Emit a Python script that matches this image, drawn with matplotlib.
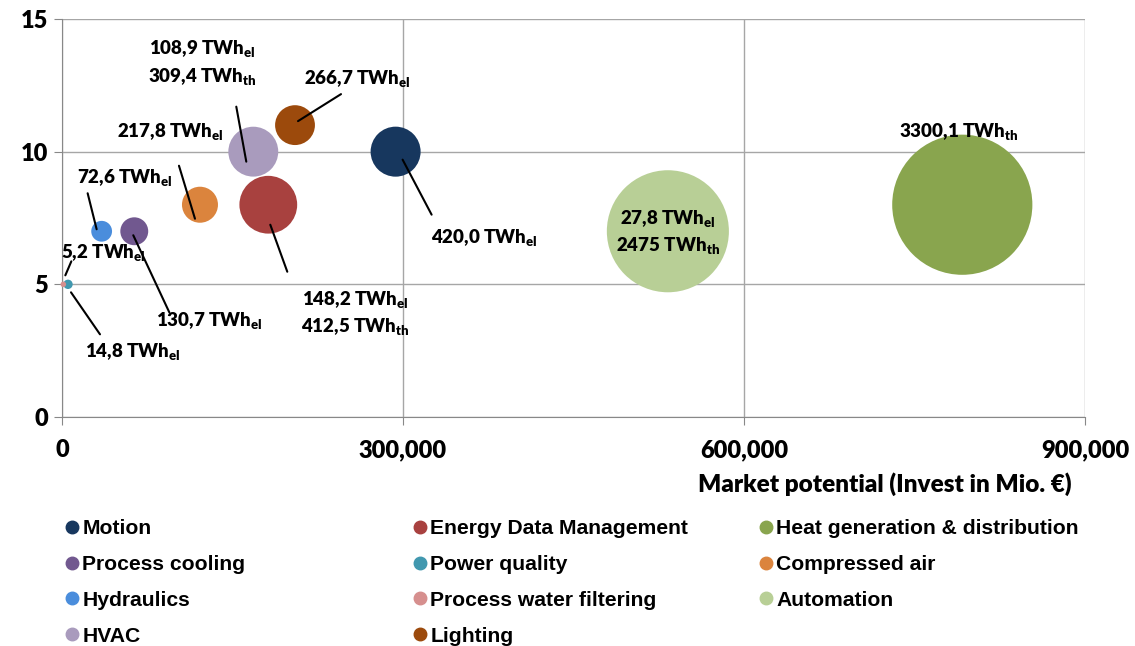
import matplotlib.pyplot as plt
from matplotlib.transforms import offset_copy
from matplotlib.ticker import FuncFormatter
from matplotlib.lines import Line2D

plt.rcParams["font.family"] = ["Lato", "DejaVu Sans"]
plt.rcParams["font.weight"] = "heavy"
plt.rcParams["mathtext.default"] = "regular"

categories = ["Motion", "Energy Data Management", "Heat generation & distribution",
              "Process cooling", "Power quality", "Compressed air",
              "Hydraulics", "Process water filtering", "Automation",
              "HVAC", "Lighting"]
invest = [293500, 181500, 792000, 63600, 5300, 121400, 34900, 1200, 533000, 168300, 205000]
score = [10, 8, 8, 7, 5, 8, 7, 5, 7, 10, 11]
twh_el = ["420,0", "148,2", "", "130,7", "14,8", "217,8", "72,6", "5,2", "27,8", "108,9", "266,7"]
twh_th = ["", "412,5", "3300,1", "", "", "", "", "", "2475", "309,4", ""]
colors = ["#17375E", "#A8413F", "#89A54E", "#71588F", "#4198AF", "#DB843D",
          "#4A8DDC", "#D68F8E", "#B8CF96", "#A99BBD", "#9C4A0C"]

# label placement, pixel offsets from bubble centre
text_off = [(35, -86, "left"), (87, -108, "center"), (-4, 73, "center"),
            (75, -89, "center"), (65, -67, "center"), (-30, 73, "center"),
            (23, 54, "center"), (40, 32, "center"), (0, -1, "center"),
            (-51, 89, "center"), (62, 47, "center")]
leaders = [((7, -8), (36, -63)), ((2, -20), (19, -67)), None,
           ((-1, -4), (35, -81)), ((3, -8), (32, -50)), ((-5, -14), (-21, 39)),
           ((-5, 2), (-14, 38)), ((2, 9), (8, 23)), None,
           ((-7, -10), (-17, 45)), ((3, 4), (46, 31))]


def num(s):
    return float(s.replace(",", ".")) if s else 0.0


total = [num(a) + num(b) for a, b in zip(twh_el, twh_th)]
sizes = [t * 3.086 for t in total]

fig = plt.figure(figsize=(11.35, 6.46), dpi=100)
ax = fig.add_axes([0.0546, 0.3545, 0.9014, 0.6161])

ax.scatter(invest, score, s=sizes, c=colors, edgecolors="none", zorder=3, clip_on=False)

for i in range(len(categories)):
    x, y = invest[i], score[i]
    lines = []
    if twh_el[i]:
        lines.append(twh_el[i] + " TWh$_{el}$")
    if twh_th[i]:
        lines.append(twh_th[i] + " TWh$_{th}$")
    dx, dy, ha = text_off[i]
    ax.annotate("\n".join(lines), xy=(x, y), xytext=(dx, dy), textcoords="offset pixels",
                ha=ha, va="center", fontsize=13.5, fontweight="heavy",
                linespacing=1.4, zorder=5, annotation_clip=False)
    if leaders[i]:
        (x1, y1), (x2, y2) = leaders[i]
        t1 = offset_copy(ax.transData, fig=fig, x=x1, y=y1, units="dots")
        t2 = offset_copy(ax.transData, fig=fig, x=x2, y=y2, units="dots")
        ax.annotate("", xy=(x, y), xycoords=t1, xytext=(x, y), textcoords=t2,
                    arrowprops=dict(arrowstyle="-", color="black", lw=1.5,
                                    shrinkA=0, shrinkB=0), zorder=4, annotation_clip=False)

ax.set_xlim(0, 900000)
ax.set_ylim(0, 15)
ax.set_xticks([0, 300000, 600000, 900000])
ax.set_yticks([0, 5, 10, 15])
ax.xaxis.set_major_formatter(FuncFormatter(lambda v, p: f"{v:,.0f}"))
ax.grid(color="#A6A6A6", lw=1)
ax.set_axisbelow(True)
for side in ["top", "right"]:
    ax.spines[side].set_visible(False)
for side in ["left", "bottom"]:
    ax.spines[side].set_color("#888888")
ax.tick_params(axis="both", direction="out", length=6, color="#888888", labelsize=17)
ax.tick_params(axis="x", pad=10)
ax.tick_params(axis="y", pad=4)

ax.set_xlabel("Market potential (Invest in Mio. €)", fontsize=17.5, fontweight="heavy", loc="right")
ax.xaxis.set_label_coords(0.987, -0.14)

# legend laid out in three columns like the original
col_x = [72, 420, 766]
col_items = [[0, 3, 6, 9], [1, 4, 7, 10], [2, 5, 8]]
for cx, items in zip(col_x, col_items):
    handles = [Line2D([], [], marker="o", ls="", color=colors[k], markersize=9) for k in items]
    fig.legend(handles, [categories[k] for k in items], loc="upper left",
               bbox_to_anchor=((cx - 6.3) / 1135, 1 - 519 / 646), frameon=False,
               borderpad=0, borderaxespad=0, handlelength=0.6, handletextpad=0.18,
               labelspacing=0.8, prop=dict(family="Liberation Sans", weight="bold", size=15.2))

fig.savefig("out.png", dpi=100)
